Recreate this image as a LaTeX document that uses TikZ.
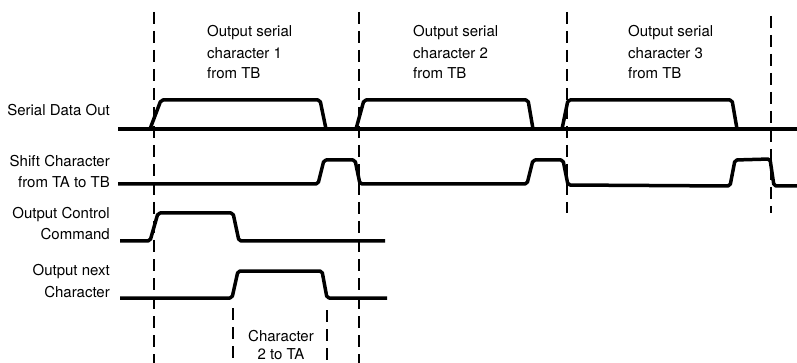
\documentclass[tikz,border=0pt]{standalone}
\usepackage{fontspec}
\setmainfont{TeX Gyre Heros}
\begin{document}
\begin{tikzpicture}[x=1pt,y=-1pt,
  lbl/.style={inner sep=0pt,font=\fontsize{15}{21}\selectfont},
  wave/.style={line width=3.5pt,rounded corners=2pt,line join=round},
  guide/.style={line width=1.6pt,dash pattern=on 12pt off 7pt}]
\useasboundingbox (0,0) rectangle (797,363);
% dashed guides
\draw[guide] (154,12) -- (154,363);
\draw[guide] (359,12) -- (359,363);
\draw[guide] (567,12) -- (567,213);
\draw[guide] (771,16) -- (771,213);
\draw[guide] (233,308) -- (233,363);
\draw[guide] (327,310) -- (327,363);
% top labels
\node[lbl,anchor=base west] (t1a) at (207,37) {Output serial};
\node[lbl,anchor=base west] (t1b) at (207,59) {character 1};
\node[lbl,anchor=base west] (t1c) at (207,79) {from TB};
\node[lbl,anchor=base west] (t2a) at (413,37) {Output serial};
\node[lbl,anchor=base west] (t2b) at (413,59) {character 2};
\node[lbl,anchor=base west] (t2c) at (413,79) {from TB};
\node[lbl,anchor=base west] (t3a) at (628,37) {Output serial};
\node[lbl,anchor=base west] (t3b) at (628,59) {character 3};
\node[lbl,anchor=base west] (t3c) at (628,79) {from TB};
% left labels
\node[lbl,anchor=base east] (sdo) at (110,116) {Serial Data Out};
\node[lbl,anchor=base east] (sc1) at (110,167) {Shift Character};
\node[lbl,anchor=base east] (sc2) at (110,188) {from TA to TB};
\node[lbl,anchor=base east] (oc1) at (110,219) {Output Control};
\node[lbl,anchor=base east] (oc2) at (110,240) {Command};
\node[lbl,anchor=base east] (on1) at (110,276) {Output next};
\node[lbl,anchor=base east] (on2) at (110,297) {Character};
% bottom label
\node[lbl,anchor=base] (b1) at (281,341) {Character};
\node[lbl,anchor=base] (b2) at (281,359) {2 to TA};
% Serial Data Out
\draw[wave,line width=4pt,rounded corners=0pt] (118,129) -- (797,129);
\draw[wave] (150,129) -- (161,100) -- (320,100) -- (326,129);
\draw[wave] (356,129) -- (364,100) -- (528,100) -- (533,129);
\draw[wave] (562,129) -- (568,100) -- (732,100) -- (737,129);
% Shift Character
\draw[wave] (118,184) -- (318,184) -- (324,160) -- (355,160) -- (360,184)
  -- (527,184) -- (533,160) -- (563,160) -- (568,185) -- (730,186)
  -- (735,160) -- (770,159) -- (774,186) -- (797,186);
% Output Control Command
\draw[wave] (120,241) -- (150,241) -- (158,213) -- (233,213) -- (239,241) -- (385,241);
% Output next Character
\draw[wave] (120,298) -- (232,298) -- (238,271) -- (322,271) -- (327,298) -- (387,298);
\end{tikzpicture}
\end{document}
